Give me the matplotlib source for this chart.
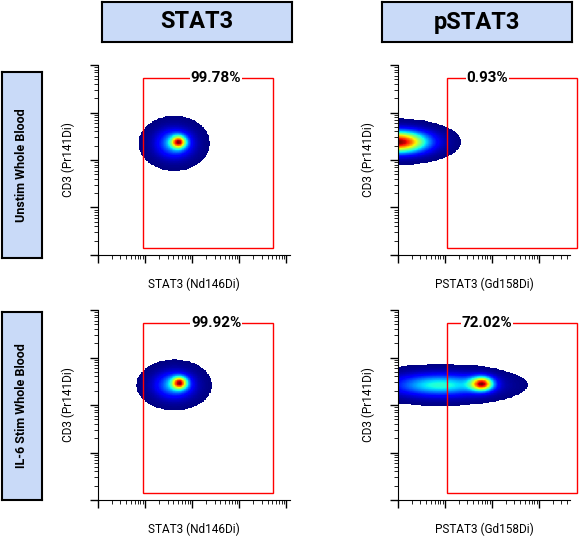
import numpy as np
import matplotlib
matplotlib.use("Agg")
import matplotlib.pyplot as plt
from matplotlib.patches import Rectangle
from matplotlib.ticker import LogLocator, NullFormatter
from matplotlib.colors import PowerNorm

col_titles = ["STAT3", "pSTAT3"]
row_titles = ["Unstim Whole Blood", "IL-6 Stim Whole Blood"]
x_labels = ["STAT3 (Nd146Di)", "PSTAT3 (Gd158Di)"]
y_label = "CD3 (Pr141Di)"
percents = [["99.78%", "0.93%"], ["99.92%", "72.02%"]]
# gates in log10 decades: x0, x1, y0, y1
gates = [[(0.96, 3.72, 0.15, 3.72), (1.04, 3.8, 0.15, 3.72)],
         [(0.96, 3.72, 0.15, 3.72), (1.04, 3.8, 0.15, 3.72)]]
label_x = [1.55, 1.9]
# density components (log10): list of (cx, cy, sx, sy, weight)
clusters = [[[(1.62, 2.35, 0.34, 0.26, 0.6), (1.72, 2.38, 0.12, 0.10, 0.6)],
             [(0.0, 2.38, 0.55, 0.20, 1.0)]],
            [[(1.62, 2.42, 0.36, 0.24, 0.6), (1.74, 2.47, 0.12, 0.10, 0.6)],
             [(0.9, 2.42, 0.85, 0.20, 0.55), (1.8, 2.45, 0.18, 0.12, 0.6)]]]
y_floor = 1.7
xlims = [4.08, 3.66]

fig = plt.figure(figsize=(5.86, 5.39), dpi=100)
W, H = 586, 539

def fbox(x0, y0, x1, y1):
    return [x0 / W, 1 - y1 / H, (x1 - x0) / W, (y1 - y0) / H]

for (x0, x1), t in zip([(102, 292), (382, 572)], col_titles):
    ax = fig.add_axes(fbox(x0, 2, x1, 42))
    ax.set_facecolor("#c9daf8")
    for s in ax.spines.values():
        s.set_linewidth(1.5)
    ax.set_xticks([]); ax.set_yticks([])
    ax.text(0.5, 0.5, t, ha="center", va="center", fontsize=17, fontweight="bold",
            family="Roboto")
for (y0, y1), t in zip([(72, 258), (312, 500)], row_titles):
    ax = fig.add_axes(fbox(2, y0, 42, y1))
    ax.set_facecolor("#c9daf8")
    for s in ax.spines.values():
        s.set_linewidth(1.5)
    ax.set_xticks([]); ax.set_yticks([])
    ax.text(0.5, 0.5, t, ha="center", va="center", rotation=90, fontsize=9,
            fontweight="bold", family="Roboto")

xpos = [(98, 290), (398, 570)]
ypos = [(65, 255), (310, 500)]
for r in range(2):
    for c in range(2):
        ax = fig.add_axes(fbox(xpos[c][0], ypos[r][0], xpos[c][1], ypos[r][1]))
        xmax = xlims[c]
        xs = np.linspace(0, xmax, 300)
        ys = np.linspace(0, 4.0, 280)
        X, Y = np.meshgrid(xs, ys)
        Z = np.zeros_like(X)
        for cx, cy, sx, sy, w in clusters[r][c]:
            Z += w * np.exp(-0.5 * (((X - cx) / sx) ** 2 + ((Y - cy) / sy) ** 2))
        Z[Y < y_floor] = 0
        Z = np.ma.masked_less(Z, 0.05)
        ax.pcolormesh(10 ** xs, 10 ** ys, Z, cmap="jet", shading="auto",
                      norm=PowerNorm(gamma=1.8, vmin=0.0, vmax=Z.max()))
        ax.set_xscale("log"); ax.set_yscale("log")
        ax.set_xlim(1, 10 ** xmax); ax.set_ylim(1, 10 ** 4.0)
        for axis in (ax.xaxis, ax.yaxis):
            axis.set_major_locator(LogLocator(base=10, numticks=10))
            axis.set_minor_locator(LogLocator(base=10, subs=np.arange(2, 10), numticks=20))
            axis.set_minor_formatter(NullFormatter())
        ax.spines["top"].set_visible(False); ax.spines["right"].set_visible(False)
        ax.tick_params(labelbottom=False, labelleft=False, length=6, width=1,
                       which="major")
        ax.tick_params(which="minor", length=3)
        g = gates[r][c]
        ax.add_patch(Rectangle((10 ** g[0], 10 ** g[2]), 10 ** g[1] - 10 ** g[0],
                               10 ** g[3] - 10 ** g[2], fill=False, ec="red", lw=1,
                               clip_on=False))
        ax.text(10 ** (g[0] + label_x[c] if c == 0 else label_x[c]), 10 ** g[3],
                percents[r][c], ha="center", va="center", fontsize=11,
                fontweight="bold", family="Roboto",
                bbox=dict(facecolor="white", edgecolor="none", pad=0.5))
        ax.set_xlabel(x_labels[c], fontsize=8.5, family="Roboto", labelpad=10)
        ax.set_ylabel(y_label, fontsize=8.5, family="Roboto", labelpad=10)

fig.savefig("out.png", dpi=100)
